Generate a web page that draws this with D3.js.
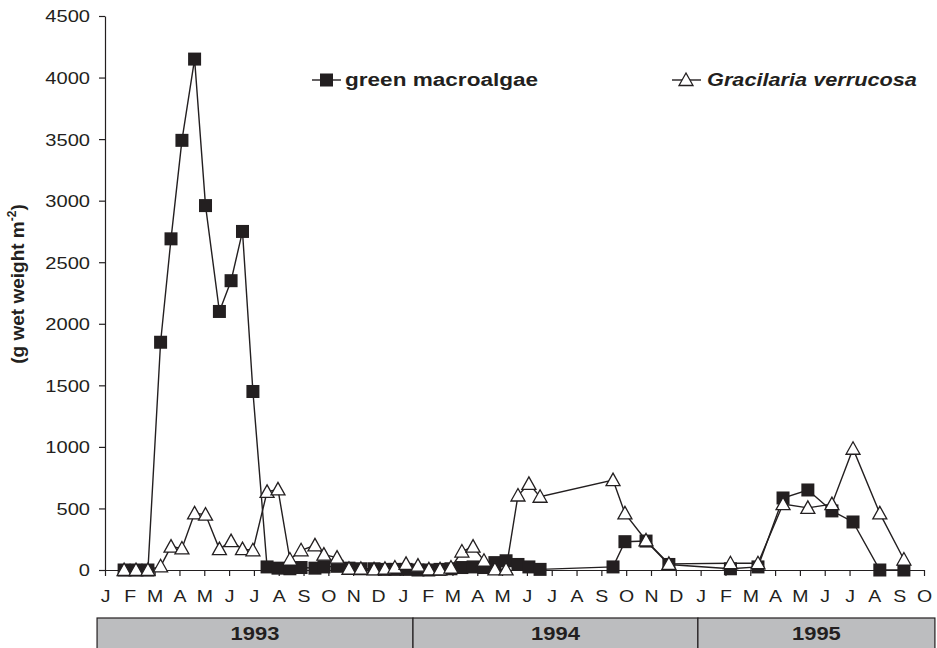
<!DOCTYPE html>
<html>
<head>
<meta charset="utf-8">
<script src="https://d3js.org/d3.v7.min.js"></script>
<style>
  body { margin: 0; background: #fff; }
  svg text { font-family: "Liberation Sans", Arial, sans-serif; fill: #231f20; }
</style>
</head>
<body>
<svg id="chart" width="937" height="648"></svg>
<script>
// month labels along the x axis (Jan 1993 .. Oct 1995)
const monthLabels = ["J","F","M","A","M","J","J","A","S","O","N","D",
                     "J","F","M","A","M","J","J","A","S","O","N","D",
                     "J","F","M","A","M","J","J","A","S","O"];
// sampling dates, in months since 1 Jan 1993
const sampleMonths = [0.77,1.25,1.73,2.24,2.66,3.10,3.61,4.05,4.61,5.08,5.54,5.96,
                      6.53,6.97,7.45,7.90,8.46,8.82,9.35,9.83,10.31,10.84,11.28,11.68,
                      12.13,12.61,13.05,13.50,13.94,14.38,14.83,15.27,15.71,16.16,16.64,17.08,17.53,
                      20.47,20.95,21.80,22.72,
                      25.20,26.31,27.32,28.32,29.29,30.14,31.22,32.19];
const greenMacroalgae = [0,0,0,1850,2690,3490,4150,2960,2100,2350,2750,1450,
                         25,15,10,20,15,25,30,15,10,10,5,5,
                         5,0,0,5,10,20,25,20,60,75,45,25,5,
                         25,230,235,45,
                         10,25,585,650,480,390,0,0];
const gracilaria = [0,0,0,30,190,175,460,450,170,235,170,160,
                    635,655,85,160,200,125,100,10,10,5,10,20,
                    50,35,5,5,20,150,190,75,5,5,605,700,595,
                    730,460,240,50,
                    55,55,535,505,535,985,460,85];
const yTicks = d3.range(0, 4501, 500);
const years = ["1993","1994","1995"];
const yearStart = [-0.32, 12.41, 23.89];
const yearEnd = [12.41, 23.89, 33.44];

const svg = d3.select("svg#chart");
const ink = "#231f20";
const stretch = 1.22;   // the original type is wider than Arial

const x = d3.scaleLinear().domain([0, 33]).range([105, 924]);
const y = d3.scaleLinear().domain([0, 4500]).range([570, 16]);

// y axis
const yAxis = svg.append("g").attr("transform", "translate(105,0)")
  .call(d3.axisLeft(y).tickValues(yTicks).tickFormat(d3.format("d"))
        .tickSize(6).tickSizeOuter(0));
yAxis.select(".domain").attr("stroke", ink).attr("stroke-width", 1.2);
yAxis.selectAll(".tick line").attr("stroke", ink).attr("stroke-width", 1.2);
yAxis.selectAll(".tick text")
  .attr("font-size", 16.5).attr("x", -15 / stretch).attr("dy", "0.36em")
  .attr("transform", `scale(${stretch},1)`);

// x axis
const xAxis = svg.append("g").attr("transform", "translate(0,570)")
  .call(d3.axisBottom(x).tickValues(d3.range(0, 34)).tickFormat(i => monthLabels[i])
        .tickSize(6).tickSizeOuter(0));
xAxis.select(".domain").attr("stroke", ink).attr("stroke-width", 1.2);
xAxis.selectAll(".tick line").attr("stroke", ink).attr("stroke-width", 1.2);
xAxis.selectAll(".tick text")
  .attr("font-size", 16).attr("y", 21).attr("dy", "0.71em")
  .attr("transform", `scale(${stretch},1)`);

// year band
const band = svg.append("g");
years.forEach((yr, i) => {
  band.append("rect")
    .attr("x", x(yearStart[i])).attr("y", 618)
    .attr("width", x(yearEnd[i]) - x(yearStart[i])).attr("height", 40)
    .attr("fill", "#bcbdbf").attr("stroke", ink).attr("stroke-width", 1.2);
  const cx = (x(yearStart[i]) + x(yearEnd[i])) / 2;
  band.append("text")
    .attr("transform", `translate(${cx},640) scale(${stretch},1)`)
    .attr("text-anchor", "middle").attr("font-weight", "bold").attr("font-size", 18)
    .text(yr);
});

// y title
const title = svg.append("text")
  .attr("transform", "translate(24,284) rotate(-90)")
  .attr("text-anchor", "middle").attr("font-weight", "bold").attr("font-size", 19);
title.append("tspan").text("(g wet weight m");
title.append("tspan").attr("font-size", 12).attr("dy", -8).text("-2");
title.append("tspan").attr("dy", 8).text(")");

// series
const data = sampleMonths.map((m, i) => ({m, g: greenMacroalgae[i], v: gracilaria[i]}));
const triPath = "M0,-7L7,5.5L-7,5.5Z";

const lineG = d3.line().x(d => x(d.m)).y(d => y(d.g));
const lineV = d3.line().x(d => x(d.m)).y(d => y(d.v));

svg.append("path").datum(data).attr("d", lineG)
  .attr("fill", "none").attr("stroke", ink).attr("stroke-width", 1.4);
svg.append("path").datum(data).attr("d", lineV)
  .attr("fill", "none").attr("stroke", ink).attr("stroke-width", 1.4);

svg.append("g").selectAll("rect").data(data)
  .join("rect")
  .attr("x", d => x(d.m) - 6.5).attr("y", d => y(d.g) - 6.5)
  .attr("width", 13).attr("height", 13)
  .attr("fill", ink);

svg.append("g").selectAll("path").data(data)
  .join("path")
  .attr("d", triPath)
  .attr("transform", d => `translate(${x(d.m)},${y(d.v)})`)
  .attr("fill", "#fff").attr("stroke", ink).attr("stroke-width", 1.3);

// legend
const legend = svg.append("g");
legend.append("line").attr("x1", 312).attr("x2", 341).attr("y1", 80).attr("y2", 80)
  .attr("stroke", ink).attr("stroke-width", 1.4);
legend.append("rect").attr("x", 320).attr("y", 73.5).attr("width", 13).attr("height", 13).attr("fill", ink);
legend.append("text").attr("transform", `translate(345,86) scale(${stretch},1)`)
  .attr("font-weight", "bold").attr("font-size", 18.5).text("green macroalgae");

legend.append("line").attr("x1", 672).attr("x2", 701).attr("y1", 80).attr("y2", 80)
  .attr("stroke", ink).attr("stroke-width", 1.4);
legend.append("path").attr("d", triPath).attr("transform", "translate(686,80)")
  .attr("fill", "#fff").attr("stroke", ink).attr("stroke-width", 1.3);
legend.append("text").attr("transform", `translate(707,86) scale(${stretch},1)`)
  .attr("font-weight", "bold").attr("font-style", "italic").attr("font-size", 17.8)
  .text("Gracilaria verrucosa");
</script>
</body>
</html>
